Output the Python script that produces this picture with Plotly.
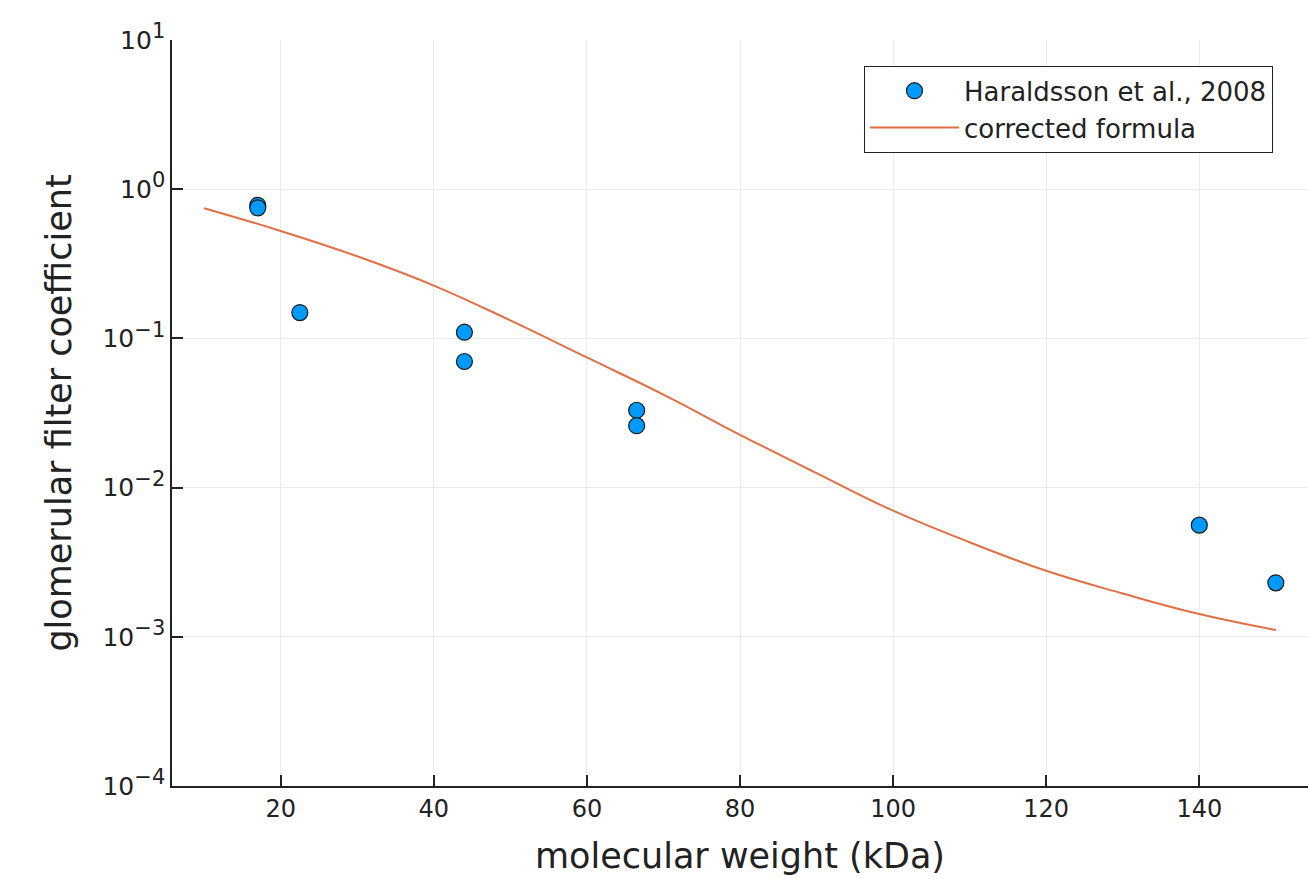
import plotly.graph_objects as go

# Data
data_x = [17, 17, 22.5, 44, 44, 66.5, 66.5, 140, 150]
data_y = [0.78, 0.75, 0.149, 0.11, 0.07, 0.033, 0.026, 0.0056, 0.0023]

formula_x = [10, 20, 30, 40, 50, 60, 70, 80, 90, 100, 110, 120, 130, 140, 150]
formula_y = [0.746, 0.525, 0.355, 0.226, 0.132, 0.0745, 0.042, 0.0226, 0.0125,
             0.0070, 0.0043, 0.00277, 0.00195, 0.00142, 0.00111]

x_ticks = [20, 40, 60, 80, 100, 120, 140]
y_tick_vals = [1e-4, 1e-3, 1e-2, 1e-1, 1e0, 1e1]
y_exponents = ["\u22124", "\u22123", "\u22122", "\u22121", "0", "1"]
y_tick_text = ["10<sup><span style='font-size:21px'>%s</span></sup>" % e for e in y_exponents]

FONT = "DejaVu Sans"
TXT = "#222222"

fig = go.Figure()
fig.add_trace(go.Scatter(
    x=data_x, y=data_y, mode="markers", name="Haraldsson et al., 2008",
    marker=dict(color="#009AFA", size=16, line=dict(color="#1a1a1a", width=1.2)),
))
fig.add_trace(go.Scatter(
    x=formula_x, y=formula_y, mode="lines", name="corrected formula",
    line=dict(color="#E26F46", width=2, shape="spline", smoothing=1.2),
))

fig.update_layout(
    width=1308, height=879,
    margin=dict(l=172, r=0, t=40, b=93),
    paper_bgcolor="white", plot_bgcolor="white",
    font=dict(family=FONT, color=TXT),
    showlegend=True,
    legend=dict(
        x=0.969, y=0.965, xanchor="right", yanchor="top",
        bgcolor="white", bordercolor=TXT, borderwidth=1.2,
        font=dict(family=FONT, size=26, color=TXT),
        itemwidth=89, tracegroupgap=0,
    ),
    xaxis=dict(
        range=[5.8, 154.2], tickvals=x_ticks,
        showgrid=True, gridcolor="#ebebeb", gridwidth=1,
        showline=True, linecolor=TXT, linewidth=1.5, mirror=False,
        ticks="inside", ticklen=11, tickwidth=1.5, tickcolor=TXT,
        tickfont=dict(family=FONT, size=24, color=TXT),
        title=dict(text="molecular weight (kDa)", font=dict(family=FONT, size=35, color=TXT), standoff=22),
        zeroline=False,
    ),
    yaxis=dict(
        type="log", range=[-4, 1], tickvals=y_tick_vals, ticktext=y_tick_text,
        showgrid=True, gridcolor="#ebebeb", gridwidth=1,
        showline=True, linecolor=TXT, linewidth=1.5, mirror=False,
        ticks="inside", ticklen=11, tickwidth=1.5, tickcolor=TXT,
        tickfont=dict(family=FONT, size=25, color=TXT),
        title=dict(text="glomerular filter coefficient", font=dict(family=FONT, size=35, color=TXT), standoff=20),
        zeroline=False,
    ),
)

fig.write_html("out.html")
